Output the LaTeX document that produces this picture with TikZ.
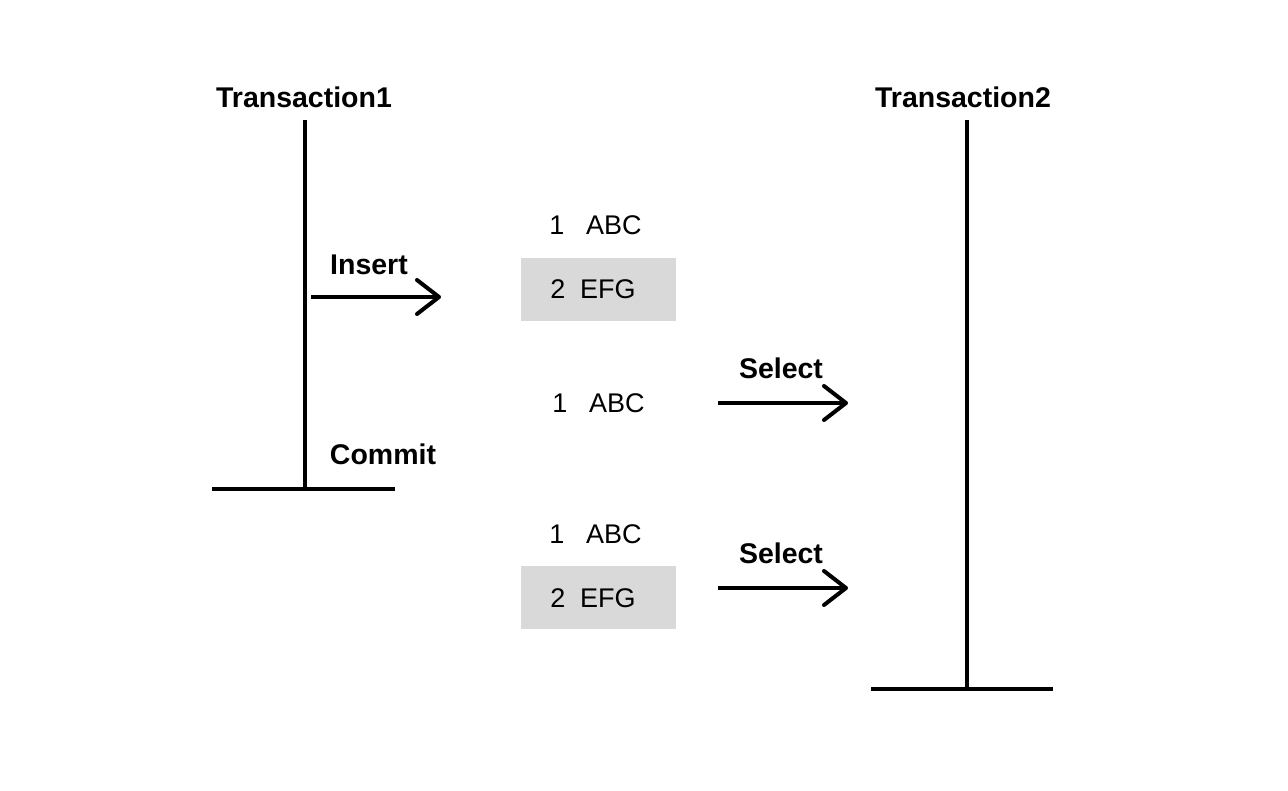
\documentclass[tikz,border=0pt]{standalone}
\usepackage{fontspec}
\setmainfont{Liberation Sans}
\usetikzlibrary{arrows.meta}
\tikzset{
  lbl/.style={font=\fontsize{28.5}{32}\selectfont\bfseries, anchor=base, inner sep=0pt},
  cell/.style={font=\fontsize{27}{30}\selectfont, anchor=base, inner sep=0pt},
  bar/.style={line width=4pt},
  arr/.style={line width=4pt, -{Straight Barb[length=22pt,width=34pt,line cap=round,line join=round]}},
  graybox/.style={fill=black!15, draw=none, minimum width=155pt, minimum height=63pt, inner sep=0pt}
}
\begin{document}
\begin{tikzpicture}[x=1pt,y=-1pt]
\useasboundingbox[fill=white] (0,0) rectangle (1288,790);
% Transaction 1
\node[lbl] (t1) at (304,107) {Transaction1};
\coordinate (t1top) at (305,120);
\coordinate (t1bot) at (305,489);
\coordinate (t1l) at (212,489);
\coordinate (t1r) at (395,489);
\draw[bar] (t1top) -- (t1bot);
\draw[bar] (t1l) -- (t1r);
% Transaction 2
\node[lbl] (t2) at (963,107) {Transaction2};
\coordinate (t2top) at (967,120);
\coordinate (t2bot) at (967,689);
\coordinate (t2l) at (871,689);
\coordinate (t2r) at (1053,689);
\draw[bar] (t2top) -- (t2bot);
\draw[bar] (t2l) -- (t2r);
% Insert
\node[lbl] (ins) at (369,274) {Insert};
\coordinate (insA) at (311,297);
\coordinate (insB) at (441,297);
\draw[arr] (insA) -- (insB);
% Commit
\node[lbl] (com) at (383,464) {Commit};
% Top table
\node[cell] (a1n) at (557,234) {1};
\node[cell, anchor=base west] (a1t) at (586,234) {ABC};
\node[graybox] (box1) at (598.5,289.5) {};
\node[cell] (a2n) at (558,298) {2};
\node[cell, anchor=base west] (a2t) at (580,298) {EFG};
% Middle
\node[cell] (b1n) at (560,412) {1};
\node[cell, anchor=base west] (b1t) at (589,412) {ABC};
\node[lbl] (sel1) at (781,378) {Select};
\coordinate (s1A) at (718,403);
\coordinate (s1B) at (848,403);
\draw[arr] (s1A) -- (s1B);
% Bottom table
\node[cell] (c1n) at (557,543) {1};
\node[cell, anchor=base west] (c1t) at (586,543) {ABC};
\node[graybox] (box2) at (598.5,597.5) {};
\node[cell] (c2n) at (558,607) {2};
\node[cell, anchor=base west] (c2t) at (580,607) {EFG};
\node[lbl] (sel2) at (781,563) {Select};
\coordinate (s2A) at (718,588);
\coordinate (s2B) at (848,588);
\draw[arr] (s2A) -- (s2B);
\end{tikzpicture}
\end{document}
